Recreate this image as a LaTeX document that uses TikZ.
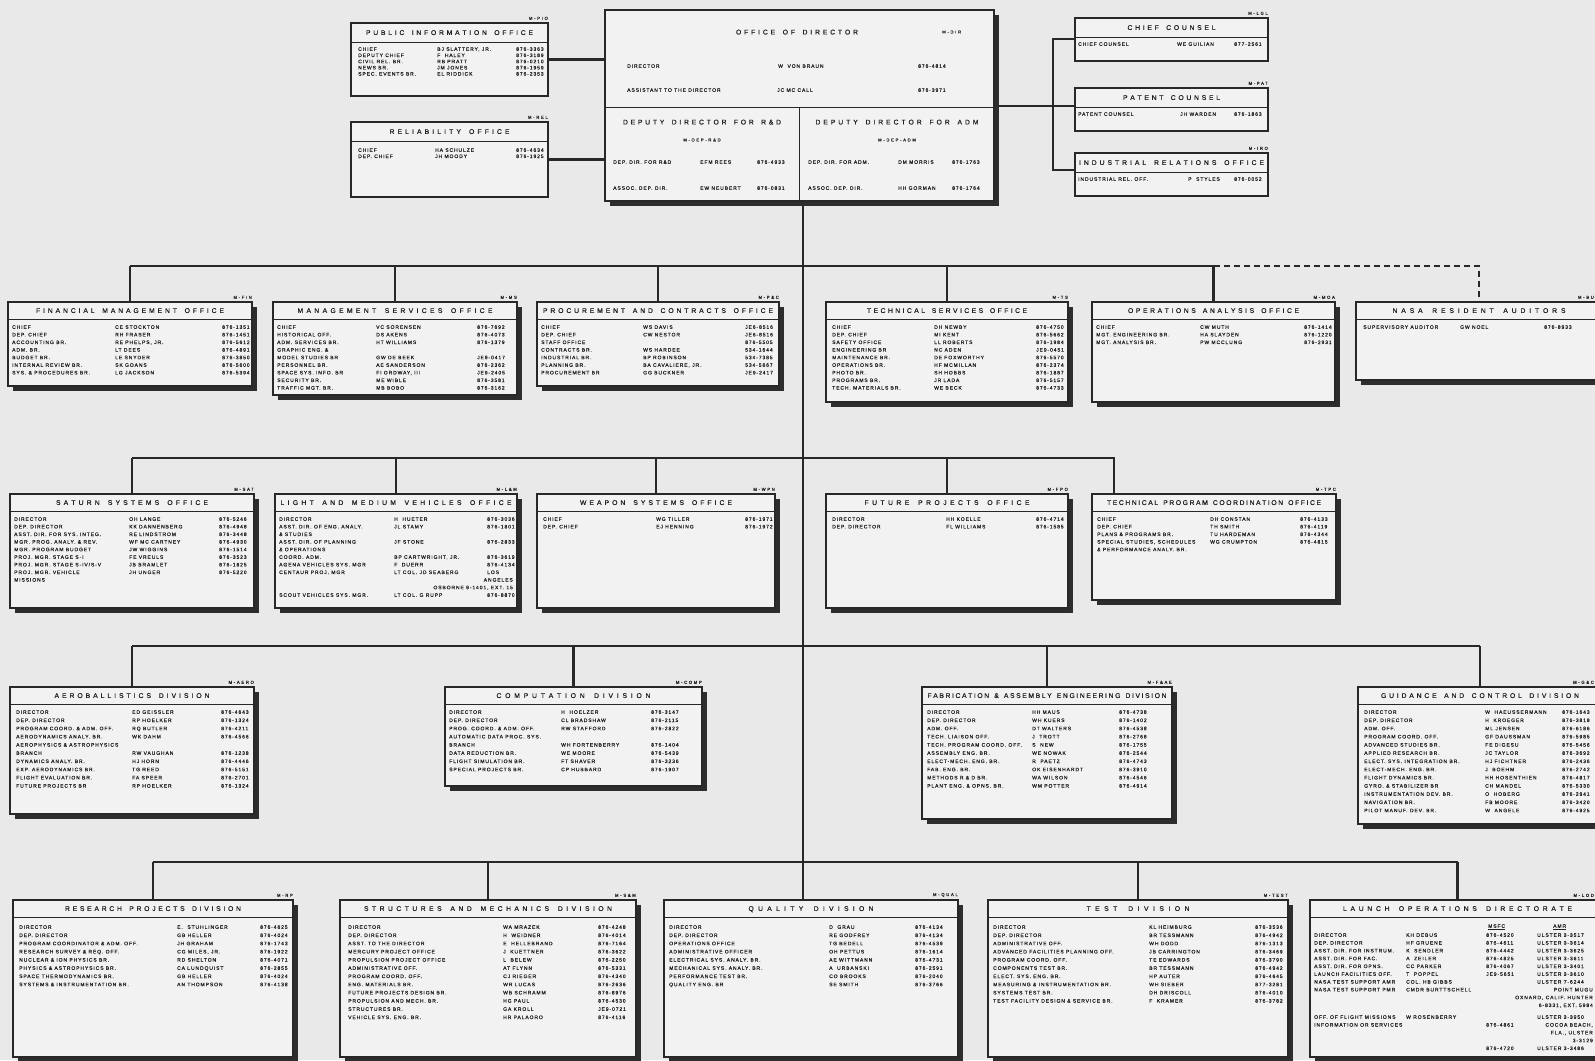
\documentclass[tikz,border=0pt]{standalone}
\usepackage{fontspec}
\setmainfont{Liberation Sans}
\newfontfamily\rowf[LetterSpace=18,FakeBold=0.5]{Liberation Sans}
\newfontfamily\codef[LetterSpace=40,FakeBold=0.4]{Liberation Sans}
\newfontfamily\ttlf[FakeBold=0.7]{Liberation Sans}
\usetikzlibrary{shadows}
\definecolor{bgc}{RGB}{233,233,233}
\definecolor{boxc}{RGB}{242,242,242}
\definecolor{linec}{RGB}{40,40,40}
\definecolor{txtc}{RGB}{35,35,35}
\definecolor{shadc}{RGB}{45,45,45}
\pgfdeclarelayer{bgl}
\pgfdeclarelayer{connl}
\pgfsetlayers{bgl,connl,main}
\def\spreadloop#1{\ifx#1\relax\else\hfil#1\expandafter\spreadloop\fi}
\def\spreadfirst#1{#1\spreadloop}
\newcommand\spreadto[2]{\hbox to #1pt{\spreadfirst#2\relax}}
\newcounter{rowc}
\def\cdy{7.6}
\tikzset{
 tbox/.style={draw=linec, line width=1.1pt, fill=boxc, anchor=north west, inner sep=0pt, outer sep=0pt},
 sbox/.style={tbox, drop shadow={shadow xshift=4.5pt, shadow yshift=-4.5pt, opacity=1, fill=shadc}},
 divl/.style={draw=linec, line width=0.8pt},
 conn/.style={draw=linec, line width=2.4pt},
 dconn/.style={conn, dash pattern=on 6pt off 4pt},
 rowt/.style={font=\rowf\fontsize{5}{6}\selectfont, text=txtc, inner sep=0pt, anchor=west, text height=3.6pt, text depth=0pt},
 rowr/.style={rowt, anchor=east},
 ttls/.style={font=\ttlf\fontsize{6.8}{7}\selectfont, text=txtc, inner sep=0pt, text height=4.9pt, text depth=0pt},
 codet/.style={font=\codef\fontsize{4.2}{5}\selectfont, text=txtc, inner sep=0pt, anchor=south east},
}
\newcommand\obox[7]{%
 \node[#1, minimum width={#5-#3}, minimum height={#6-#4}] (#2) at (#3,#4) {};
 \draw[divl] (#3,{#4+#7}) -- (#5,{#4+#7});
 \xdef\bnm{#2}\xdef\bxa{#3}\xdef\bya{#4}\xdef\bxb{#5}\xdef\bdv{#7}}
\newcommand\otitle[3]{%
 \node[ttls] (\bnm-t) at ({(\bxa+\bxb)/2},{\bya+\bdv/2}) {\spreadto{#1}{#2}};
 \node[codet] (\bnm-c) at ({min(\bxb,1594)},{\bya-3}) {#3};}
\newcommand\setcols[4]{%
 \xdef\cbx{\bnm}%
 \pgfmathsetmacro\tmpa{\bxa+#1}\xdef\clx{\tmpa}%
 \pgfmathsetmacro\tmpa{\bxa+#2}\xdef\cnx{\tmpa}%
 \pgfmathsetmacro\tmpa{\bxb-#3}\xdef\cpx{\tmpa}%
 \pgfmathsetmacro\tmpa{\bxb-4}\xdef\crx{\tmpa}%
 \xdef\cy{#4}}
\newcommand\optnode[4]{\if\relax\detokenize{#4}\relax\else\node[#1] (#2) at (#3,\cy) {#4};\fi}
\newcommand\advrow{\pgfmathsetmacro\tmpa{\cy+\cdy}\xdef\cy{\tmpa}}
\newcommand\orow[3]{\stepcounter{rowc}%
 \optnode{rowt}{\cbx-a\arabic{rowc}}{\clx}{#1}%
 \optnode{rowt}{\cbx-b\arabic{rowc}}{\cnx}{#2}%
 \optnode{rowt}{\cbx-c\arabic{rowc}}{\cpx}{#3}%
 \advrow}
\newcommand\oright[1]{\stepcounter{rowc}%
 \optnode{rowr}{\cbx-r\arabic{rowc}}{\crx}{#1}\advrow}
\newcommand\lrow[4]{\stepcounter{rowc}%
 \optnode{rowt}{lod-a\arabic{rowc}}{1314}{#1}%
 \optnode{rowt}{lod-b\arabic{rowc}}{1406}{#2}%
 \optnode{rowt}{lod-c\arabic{rowc}}{1486}{#3}%
 \optnode{rowt}{lod-d\arabic{rowc}}{1537}{#4}%
 \advrow}
\newcommand\lright[1]{\stepcounter{rowc}%
 \optnode{rowr}{lod-r\arabic{rowc}}{1593}{#1}\advrow}

\begin{document}
\begin{tikzpicture}[x=1pt,y=-1pt]
\useasboundingbox (0,0) rectangle (1595,1060);
\begin{pgfonlayer}{bgl}
\fill[bgc] (0,0) rectangle (1595,1060);
\end{pgfonlayer}

% ---------------- TOP ----------------
\obox{tbox}{pio}{351}{23}{548}{96}{19}
\otitle{167}{PUBLIC~INFORMATION~OFFICE}{M-PIO}
\setcols{7}{86}{32}{49}\def\cdy{6.2}
\orow{CHIEF}{BJ SLATTERY, JR.}{876-3363}
\orow{DEPUTY CHIEF}{F\ \ HALEY}{876-3189}
\orow{CIVIL REL. BR.}{RB PRATT}{876-0210}
\orow{NEWS BR.}{JM JONES}{876-1959}
\orow{SPEC. EVENTS BR.}{EL RIDDICK}{876-2353}

\obox{tbox}{rel}{351}{122}{548}{197}{19}
\otitle{120}{RELIABILITY~OFFICE}{M-REL}
\setcols{7}{84}{32}{150}
\orow{CHIEF}{HA SCHULZE}{876-4634}
\orow{DEP. CHIEF}{JH MOODY}{876-1925}

\obox{sbox}{dir}{605}{10}{994}{201}{97}
\draw[divl] (799,107) -- (799,201);
\node[ttls] (dir-t) at (797,32) {\spreadto{122}{OFFICE~OF~DIRECTOR}};
\node[codet, anchor=west] (dir-c) at (942,32) {M-DIR};
\node[rowt] (dir-a1) at (627,66) {DIRECTOR};
\node[rowt] (dir-b1) at (778,66) {W\ \ VON BRAUN};
\node[rowt] (dir-c1) at (918,66) {876-4814};
\node[rowt] (dir-a2) at (627,90) {ASSISTANT TO THE DIRECTOR};
\node[rowt] (dir-b2) at (777,90) {JC MC CALL};
\node[rowt] (dir-c2) at (918,90) {876-3971};
\node[ttls] (dir-t2) at (702,122) {\spreadto{158}{DEPUTY~DIRECTOR~FOR~R\&D}};
\node[ttls] (dir-t3) at (897,122) {\spreadto{163}{DEPUTY~DIRECTOR~FOR~ADM}};
\node[codet, anchor=center] (dir-c2x) at (702,140) {M-DEP-R\&D};
\node[codet, anchor=center] (dir-c3x) at (897,140) {M-DEP-ADM};
\node[rowt] (dir-a3) at (613,162) {DEP. DIR. FOR R\&D};
\node[rowt] (dir-b3) at (700,162) {EFM REES};
\node[rowt] (dir-c3) at (757,162) {876-4933};
\node[rowt] (dir-a4) at (613,188) {ASSOC. DEP. DIR.};
\node[rowt] (dir-b4) at (700,188) {EW NEUBERT};
\node[rowt] (dir-c4) at (757,188) {876-0831};
\node[rowt] (dir-a5) at (808,162) {DEP. DIR. FOR ADM.};
\node[rowt] (dir-b5) at (898,162) {DM MORRIS};
\node[rowt] (dir-c5) at (952,162) {876-1763};
\node[rowt] (dir-a6) at (808,188) {ASSOC. DEP. DIR.};
\node[rowt] (dir-b6) at (898,188) {HH GORMAN};
\node[rowt] (dir-c6) at (952,188) {876-1764};

\obox{tbox}{cc}{1075}{18}{1268}{61}{19}
\otitle{88}{CHIEF~COUNSEL}{M-LGL}
\setcols{3}{102}{34}{44}
\orow{CHIEF COUNSEL}{WE GUILIAN}{877-2561}
\obox{tbox}{pat}{1075}{88}{1268}{131}{19}
\otitle{97}{PATENT~COUNSEL}{M-PAT}
\setcols{3}{105}{34}{114}
\orow{PATENT COUNSEL}{JH WARDEN}{876-1863}
\obox{tbox}{iro}{1075}{153}{1268}{196}{19}
\otitle{185}{INDUSTRIAL~RELATIONS~OFFICE}{M-IRO}
\setcols{3}{113}{34}{179}
\orow{INDUSTRIAL REL. OFF.}{P\ \ STYLES}{876-0052}

% ---------------- ROW 1 ----------------
\def\cdy{7.6}
\obox{sbox}{fin}{8}{302}{252}{386}{17}
\otitle{188}{FINANCIAL~MANAGEMENT~OFFICE}{M-FIN}
\setcols{4}{107}{30}{327}
\orow{CHIEF}{CE STOCKTON}{876-1351}
\orow{DEP. CHIEF}{RH FRASER}{876-1451}
\orow{ACCOUNTING BR.}{RE PHELPS, JR.}{876-5612}
\orow{ADM. BR.}{LT DEES}{876-4891}
\orow{BUDGET BR.}{LE SNYDER}{876-3850}
\orow{INTERNAL REVIEW BR.}{SK GOANS}{876-5600}
\orow{SYS. \& PROCEDURES BR.}{LG JACKSON}{876-5394}

\obox{sbox}{ms}{273}{302}{517}{395}{17}
\otitle{195}{MANAGEMENT~SERVICES~OFFICE}{M-MS}
\setcols{4}{103}{40}{327}
\orow{CHIEF}{VC SORENSEN}{876-7692}
\orow{HISTORICAL OFF.}{DS AKENS}{876-4073}
\orow{ADM. SERVICES BR.}{HT WILLIAMS}{876-1379}
\orow{GRAPHIC ENG. \&}{}{}
\orow{MODEL STUDIES BR}{GW DE BEEK}{JE9-0417}
\orow{PERSONNEL BR.}{AE SANDERSON}{876-2362}
\orow{SPACE SYS. INFO. BR}{FI ORDWAY, III}{JE9-2405}
\orow{SECURITY BR.}{ME WIBLE}{876-3581}
\orow{TRAFFIC MGT. BR.}{MB BOBO}{876-3162}

\obox{sbox}{pc}{537}{302}{779}{386}{17}
\otitle{230}{PROCUREMENT~AND~CONTRACTS~OFFICE}{M-P\&C}
\setcols{4}{106}{34}{327}
\orow{CHIEF}{WS DAVIS}{JE6-8516}
\orow{DEP. CHIEF}{CW NESTOR}{JE6-8516}
\orow{STAFF OFFICE}{}{876-5505}
\orow{CONTRACTS BR.}{WS HARDEE}{534-1644}
\orow{INDUSTRIAL BR.}{BP ROBINSON}{534-7385}
\orow{PLANNING BR.}{BA CAVALIERE, JR.}{534-5667}
\orow{PROCUREMENT BR}{GG BUCKNER}{JE9-2417}

\obox{sbox}{ts}{826}{302}{1068}{402}{17}
\otitle{160}{TECHNICAL~SERVICES~OFFICE}{M-TS}
\setcols{6}{108}{32}{327}
\orow{CHIEF}{DH NEWBY}{876-4750}
\orow{DEP. CHIEF}{MI KENT}{876-5662}
\orow{SAFETY OFFICE}{LL ROBERTS}{876-1984}
\orow{ENGINEERING BR}{NC ADEN}{JE9-0451}
\orow{MAINTENANCE BR.}{DE FOXWORTHY}{876-5570}
\orow{OPERATIONS BR.}{HF MCMILLAN}{876-2374}
\orow{PHOTO BR.}{SH HOBBS}{876-1887}
\orow{PROGRAMS BR.}{JR LADA}{876-5157}
\orow{TECH. MATERIALS BR.}{WE BECK}{876-4733}

\obox{sbox}{oa}{1092}{302}{1335}{402}{17}
\otitle{171}{OPERATIONS~ANALYSIS~OFFICE}{M-MOA}
\setcols{4}{108}{31}{327}
\orow{CHIEF}{CW MUTH}{876-1414}
\orow{MGT. ENGINEERING BR.}{HA SLAYDEN}{876-1220}
\orow{MGT. ANALYSIS BR.}{PW MCCLUNG}{876-2931}

\obox{sbox}{nasa}{1356}{302}{1602}{380}{17}
\otitle{173}{NASA~RESIDENT~AUDITORS}{M-BU}
\setcols{7}{104}{58}{327}
\orow{SUPERVISORY AUDITOR}{GW NOEL}{876-8933}

% ---------------- ROW 2 ----------------
\obox{sbox}{sat}{10}{494}{254}{608}{17}
\otitle{152}{SATURN~SYSTEMS~OFFICE}{M-SAT}
\setcols{4}{119}{35}{519}
\orow{DIRECTOR}{OH LANGE}{876-5246}
\orow{DEP. DIRECTOR}{KK DANNENBERG}{876-4948}
\orow{ASST. DIR. FOR SYS. INTEG.}{RE LINDSTROM}{876-3448}
\orow{MGR. PROG. ANALY. \& REV.}{WF MC CARTNEY}{876-4930}
\orow{MGR. PROGRAM BUDGET}{JW WIGGINS}{876-1514}
\orow{PROJ. MGR. STAGE S-I}{FE VREULS}{876-3523}
\orow{PROJ. MGR. STAGE S-IV/S-V}{JB BRAMLET}{876-1825}
\orow{PROJ. MGR. VEHICLE}{JH UNGER}{876-5220}
\orow{MISSIONS}{}{}

\obox{sbox}{lmv}{275}{494}{517}{608}{17}
\otitle{231}{LIGHT~AND~MEDIUM~VEHICLES~OFFICE}{M-L\&M}
\setcols{4}{119}{30}{519}
\orow{DIRECTOR}{H\ \ HUETER}{876-3036}
\orow{ASST. DIR. OF ENG. ANALY.}{JL STAMY}{876-1801}
\orow{\& STUDIES}{}{}
\orow{ASST. DIR. OF PLANNING}{JF STONE}{876-2833}
\orow{\& OPERATIONS}{}{}
\orow{COORD. ADM.}{BP CARTWRIGHT, JR.}{876-3619}
\orow{AGENA VEHICLES SYS. MGR}{F\ \ DUERR}{876-4134}
\orow{CENTAUR PROJ. MGR}{LT COL. JD SEABERG}{LOS}
\oright{ANGELES}
\oright{OSBORNE 9-1401, EXT. 15}
\orow{SCOUT VEHICLES SYS. MGR.}{LT COL. G RUPP}{876-8870}

\obox{sbox}{ws}{537}{494}{775}{608}{17}
\otitle{152}{WEAPON~SYSTEMS~OFFICE}{M-WPN}
\setcols{6}{119}{30}{519}
\orow{CHIEF}{WG TILLER}{876-1971}
\orow{DEP. CHIEF}{EJ HENNING}{876-1972}

\obox{sbox}{fp}{826}{494}{1068}{608}{17}
\otitle{165}{FUTURE~PROJECTS~OFFICE}{M-FPO}
\setcols{6}{120}{32}{519}
\orow{DIRECTOR}{HH KOELLE}{876-4714}
\orow{DEP. DIRECTOR}{FL WILLIAMS}{876-1585}

\obox{sbox}{tpc}{1092}{494}{1336}{600}{17}
\otitle{214}{TECHNICAL~PROGRAM~COORDINATION~OFFICE}{M-TPC}
\setcols{5}{118}{36}{519}
\orow{CHIEF}{DH CONSTAN}{876-4133}
\orow{DEP. CHIEF}{TH SMITH}{876-4119}
\orow{PLANS \& PROGRAMS BR.}{TU HARDEMAN}{876-4344}
\orow{SPECIAL STUDIES, SCHEDULES}{WG CRUMPTON}{876-4815}
\orow{\& PERFORMANCE ANALY. BR.}{}{}

% ---------------- ROW 3 ----------------
\def\cdy{8.2}
\obox{sbox}{aero}{10}{687}{254}{814}{17}
\otitle{155}{AEROBALLISTICS~DIVISION}{M-AERO}
\setcols{6}{122}{33}{712}
\orow{DIRECTOR}{ED GEISSLER}{876-4643}
\orow{DEP. DIRECTOR}{RP HOELKER}{876-1324}
\orow{PROGRAM COORD. \& ADM. OFF.}{RQ BUTLER}{876-4211}
\orow{AERODYNAMICS ANALY. BR.}{WK DAHM}{876-4566}
\orow{AEROPHYSICS \& ASTROPHYSICS}{}{}
\orow{BRANCH}{RW VAUGHAN}{876-1238}
\orow{DYNAMICS ANALY. BR.}{HJ HORN}{876-4446}
\orow{EXP. AERODYNAMICS BR.}{TG REED}{876-5151}
\orow{FLIGHT EVALUATION BR.}{FA SPEER}{876-2701}
\orow{FUTURE PROJECTS BR}{RP HOELKER}{876-1324}

\obox{sbox}{comp}{445}{687}{702}{786}{17}
\otitle{154}{COMPUTATION~DIVISION}{M-COMP}
\setcols{4}{116}{51}{712}
\orow{DIRECTOR}{H\ \ HOELZER}{876-3147}
\orow{DEP. DIRECTOR}{CL BRADSHAW}{876-2115}
\orow{PROG. COORD. \& ADM. OFF.}{RW STAFFORD}{876-2822}
\orow{AUTOMATIC DATA PROC. SYS.}{}{}
\orow{BRANCH}{WH FORTENBERRY}{876-1404}
\orow{DATA REDUCTION BR.}{WE MOORE}{876-5439}
\orow{FLIGHT SIMULATION BR.}{FT SHAVER}{876-3236}
\orow{SPECIAL PROJECTS BR.}{CP HUBBARD}{876-1907}

\obox{sbox}{fab}{922}{687}{1172}{819}{17}
\otitle{239}{FABRICATION~\&~ASSEMBLY~ENGINEERING~DIVISION}{M-F\&AE}
\setcols{5}{110}{53}{712}
\orow{DIRECTOR}{HH MAUS}{876-4738}
\orow{DEP. DIRECTOR}{WH KUERS}{876-1402}
\orow{ADM. OFF.}{DT WALTERS}{876-4538}
\orow{TECH. LIAISON OFF.}{J\ \ TROTT}{876-2768}
\orow{TECH. PROGRAM COORD. OFF.}{S\ \ NEW}{876-1755}
\orow{ASSEMBLY ENG. BR.}{WE NOWAK}{876-2544}
\orow{ELECT-MECH. ENG. BR.}{R\ \ PAETZ}{876-4743}
\orow{FAB. ENG. BR.}{OK EISENHARDT}{876-3910}
\orow{METHODS R \& D BR.}{WA WILSON}{876-4546}
\orow{PLANT ENG. \& OPNS. BR.}{WM POTTER}{876-4914}

\obox{sbox}{guid}{1358}{687}{1602}{824}{17}
\otitle{198}{GUIDANCE~AND~CONTROL~DIVISION}{M-G\&C}
\setcols{6}{127}{40}{712}
\orow{DIRECTOR}{W\ \ HAEUSSERMANN}{876-1643}
\orow{DEP. DIRECTOR}{H\ \ KROEGER}{876-3818}
\orow{ADM. OFF.}{ML JENSEN}{876-6186}
\orow{PROGRAM COORD. OFF.}{GF DAUSSMAN}{876-5985}
\orow{ADVANCED STUDIES BR.}{FE DIGESU}{876-5456}
\orow{APPLIED RESEARCH BR.}{JC TAYLOR}{876-3692}
\orow{ELECT. SYS. INTEGRATION BR.}{HJ FICHTNER}{876-2436}
\orow{ELECT-MECH. ENG. BR.}{J\ \ BOEHM}{876-2742}
\orow{FLIGHT DYNAMICS BR.}{HH HOSENTHIEN}{876-4817}
\orow{GYRO. \& STABILIZER BR}{CH MANDEL}{876-5330}
\orow{INSTRUMENTATION DEV. BR.}{O\ \ HOBERG}{876-2941}
\orow{NAVIGATION BR.}{FB MOORE}{876-3420}
\orow{PILOT MANUF. DEV. BR.}{W\ \ ANGELE}{876-4925}

% ---------------- ROW 4 ----------------
\obox{sbox}{rp}{13}{900}{293}{1057}{17}
\otitle{176}{RESEARCH~PROJECTS~DIVISION}{M-RP}
\setcols{6}{164}{33}{927}
\orow{DIRECTOR}{E.\ \ STUHLINGER}{876-4625}
\orow{DEP. DIRECTOR}{GB HELLER}{876-4024}
\orow{PROGRAM COORDINATOR \& ADM. OFF.}{JH GRAHAM}{876-1743}
\orow{RESEARCH SURVEY \& REQ. OFF.}{CG MILES, JR.}{876-1922}
\orow{NUCLEAR \& ION PHYSICS BR.}{RD SHELTON}{876-4071}
\orow{PHYSICS \& ASTROPHYSICS BR.}{CA LUNDQUIST}{876-2855}
\orow{SPACE THERMODYNAMICS BR.}{GB HELLER}{876-4024}
\orow{SYSTEMS \& INSTRUMENTATION BR.}{AN THOMPSON}{876-4138}

\obox{sbox}{sm}{340}{900}{636}{1057}{17}
\otitle{248}{STRUCTURES~AND~MECHANICS~DIVISION}{M-S\&M}
\setcols{8}{163}{38}{927}
\orow{DIRECTOR}{WA MRAZEK}{876-4248}
\orow{DEP. DIRECTOR}{H\ \ WEIDNER}{876-4014}
\orow{ASST. TO THE DIRECTOR}{E\ \ HELLEBRAND}{876-7164}
\orow{MERCURY PROJECT OFFICE}{J\ \ KUETTNER}{876-3622}
\orow{PROPULSION PROJECT OFFICE}{L\ \ BELEW}{876-2250}
\orow{ADMINISTRATIVE OFF.}{AT FLYNN}{876-5331}
\orow{PROGRAM COORD. OFF.}{CJ RIEGER}{876-4340}
\orow{ENG. MATERIALS BR.}{WR LUCAS}{876-2636}
\orow{FUTURE PROJECTS DESIGN BR.}{WB SCHRAMM}{876-8976}
\orow{PROPULSION AND MECH. BR.}{HG PAUL}{876-4530}
\orow{STRUCTURES BR.}{GA KROLL}{JE9-0721}
\orow{VEHICLE SYS. ENG. BR.}{HR PALAORO}{876-4116}

\obox{sbox}{qual}{664}{900}{958}{1057}{17}
\otitle{125}{QUALITY~DIVISION}{M-QUAL}
\setcols{5}{165}{43}{927}
\orow{DIRECTOR}{D\ \ GRAU}{876-4134}
\orow{DEP. DIRECTOR}{RE GODFREY}{876-4134}
\orow{OPERATIONS OFFICE}{TG BEDELL}{876-4539}
\orow{ADMINISTRATIVE OFFICER}{OH PETTUS}{876-1614}
\orow{ELECTRICAL SYS. ANALY. BR.}{AE WITTMANN}{876-4731}
\orow{MECHANICAL SYS. ANALY. BR.}{A\ \ URBANSKI}{876-2591}
\orow{PERFORMANCE TEST BR.}{CO BROOKS}{876-2040}
\orow{QUALITY ENG. BR}{SE SMITH}{876-3766}

\obox{sbox}{test}{988}{900}{1288}{1057}{17}
\otitle{103}{TEST~DIVISION}{M-TEST}
\setcols{5}{161}{33}{927}
\orow{DIRECTOR}{KL HEIMBURG}{876-3536}
\orow{DEP. DIRECTOR}{BR TESSMANN}{876-4942}
\orow{ADMINISTRATIVE OFF.}{WH DODD}{876-1313}
\orow{ADVANCED FACILITIES PLANNING OFF.}{JB CARRINGTON}{876-3469}
\orow{PROGRAM COORD. OFF.}{TE EDWARDS}{876-3790}
\orow{COMPONENTS TEST BR.}{BR TESSMANN}{876-4942}
\orow{ELECT. SYS. ENG. BR.}{HP AUTER}{876-4645}
\orow{MEASURING \& INSTRUMENTATION BR.}{WH SIEBER}{877-3281}
\orow{SYSTEMS TEST BR.}{DH DRISCOLL}{876-4010}
\orow{TEST FACILITY DESIGN \& SERVICE BR.}{F\ \ KRAMER}{876-3782}

\obox{sbox}{lod}{1310}{900}{1605}{1057}{17}
\otitle{229}{LAUNCH~OPERATIONS~DIRECTORATE}{M-LOD}
\xdef\cy{926}
\node[rowt] (lod-h1) at (1488,\cy) {\underline{MSFC}};
\node[rowt] (lod-h2) at (1553,\cy) {\underline{AMR}};
\def\cdy{7.8}
\xdef\cy{935}
\lrow{DIRECTOR}{KH DEBUS}{876-4520}{ULSTER 3-3517}
\lrow{DEP. DIRECTOR}{HF GRUENE}{876-4611}{ULSTER 3-3614}
\lrow{ASST. DIR. FOR INSTRUM.}{K\ \ SENDLER}{876-4442}{ULSTER 3-3625}
\lrow{ASST. DIR. FOR FAC.}{A\ \ ZEILER}{876-4825}{ULSTER 3-3611}
\lrow{ASST. DIR. FOR OPNS.}{CC PARKER}{876-4067}{ULSTER 3-3401}
\lrow{LAUNCH FACILITIES OFF.}{T\ \ POPPEL}{JE9-5651}{ULSTER 3-3610}
\lrow{NASA TEST SUPPORT AMR}{COL. HB GIBBS}{}{ULSTER 7-6244}
\stepcounter{rowc}\optnode{rowt}{lod-a\arabic{rowc}}{1314}{NASA TEST SUPPORT PMR}%
\optnode{rowt}{lod-b\arabic{rowc}}{1406}{CMDR BURTTSCHELL}%
\optnode{rowr}{lod-r\arabic{rowc}}{1593}{POINT MUGU}\advrow
\lright{OXNARD, CALIF. HUNTER}
\lright{6-8331, EXT. 5984}
\pgfmathsetmacro\tmpa{\cy+4}\xdef\cy{\tmpa}
\lrow{OFF. OF FLIGHT MISSIONS}{W ROSENBERRY}{}{ULSTER 3-3950}
\stepcounter{rowc}\optnode{rowt}{lod-a\arabic{rowc}}{1314}{INFORMATION OR SERVICES}%
\optnode{rowt}{lod-c\arabic{rowc}}{1486}{876-4861}%
\optnode{rowr}{lod-r\arabic{rowc}}{1593}{COCOA BEACH,}\advrow
\lright{FLA., ULSTER}
\lright{3-3129}
\lrow{}{}{876-4720}{ULSTER 3-3486}

% ---------------- CONNECTORS ----------------
\begin{pgfonlayer}{connl}
\draw[conn] (pio.east) -- (pio.east -| dir.west);
\draw[conn] (rel.east) -- (rel.east -| dir.west);
\coordinate (rt) at (1053,39);
\coordinate (rm) at (1053,106);
\coordinate (rb) at (1053,170);
\draw[conn] (cc.west |- rt) -- (rt) -- (rb) -- (iro.west |- rb);
\draw[conn] (dir.east |- rm) -- (pat.west |- rm);
\coordinate (tk) at (803,0);
\draw[conn] (dir.south -| tk) -- (qual.north -| tk);
% row 1
\coordinate (b1) at (0,266);
\draw[conn] (fin.north |- b1) -- (oa.north |- b1);
\foreach \n in {fin,ms,pc,ts,oa} {\draw[conn] (\n.north) -- (\n.north |- b1);}
\draw[dconn] (oa.north |- b1) -- (nasa.north |- b1) -- (nasa.north);
% row 2
\coordinate (b2) at (0,458);
\coordinate (tpcd) at (1114,0);
\draw[conn] (sat.north |- b2) -- (tpcd |- b2) -- (tpc.north -| tpcd);
\foreach \n in {sat,lmv,ws,fp} {\draw[conn] (\n.north) -- (\n.north |- b2);}
% row 3
\coordinate (b3) at (0,646);
\draw[conn] (aero.north |- b3) -- (guid.north |- b3);
\foreach \n in {aero,comp,fab,guid} {\draw[conn] (\n.north) -- (\n.north |- b3);}
% row 4
\coordinate (b4) at (0,862);
\draw[conn] (rp.north |- b4) -- (lod.north |- b4);
\foreach \n in {rp,sm,test,lod} {\draw[conn] (\n.north) -- (\n.north |- b4);}
\end{pgfonlayer}
\end{tikzpicture}
\end{document}
